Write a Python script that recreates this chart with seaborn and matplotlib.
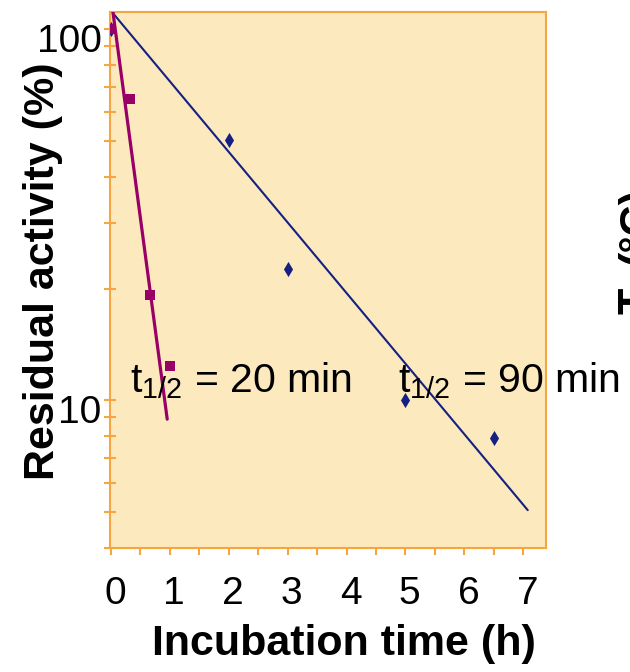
import matplotlib
matplotlib.use("Agg")
import matplotlib.pyplot as plt
from matplotlib.ticker import FixedLocator, NullFormatter, FixedFormatter
from matplotlib.transforms import ScaledTranslation
import seaborn as sns
import pandas as pd

# ---- data ----
fast_time = [0, 0.33, 0.67, 1.0]
fast_activity = [100, 65, 19.2, 12.4]
slow_time = [0, 2, 3, 5, 6.5]
slow_activity = [100, 50.4, 22.6, 10.0, 7.9]
fast_fit_time = [0, 0.956]
fast_fit_activity = [122.5, 8.9]
slow_fit_time = [0, 7.075]
slow_fit_activity = [112.3, 5.06]
x_ticks = [0, 1, 2, 3, 4, 5, 6, 7]
y_ticks = [10, 100]
labels = ["t$_{1/2}$ = 20 min", "t$_{1/2}$ = 90 min"]

PURPLE = "#990066"
NAVY = "#162082"
ORANGE = "#F7A541"
BG = "#FCE9BE"

sns.set_style("ticks")
plt.rcParams["font.family"] = ["Liberation Sans", "DejaVu Sans"]
plt.rcParams["mathtext.fontset"] = "custom"
plt.rcParams["mathtext.rm"] = "Liberation Sans"
plt.rcParams["mathtext.default"] = "regular"
plt.rcParams["text.color"] = "black"
plt.rcParams["xtick.labelcolor"] = "black"
plt.rcParams["ytick.labelcolor"] = "black"

fig = plt.figure(figsize=(6.3, 6.72), dpi=100)
L, R, B, T = 110 / 630, 546 / 630, 1 - 548 / 672, 1 - 12 / 672
ax = fig.add_axes([L, B, R - L, T - B])
ax.set_facecolor(BG)

df_sf = pd.DataFrame({"t": slow_fit_time, "a": slow_fit_activity})
df_ff = pd.DataFrame({"t": fast_fit_time, "a": fast_fit_activity})
df_s = pd.DataFrame({"t": slow_time, "a": slow_activity})
df_f = pd.DataFrame({"t": fast_time, "a": fast_activity})

sns.lineplot(data=df_sf, x="t", y="a", ax=ax, color=NAVY, linewidth=1.5,
             estimator=None, sort=False, zorder=2)
sns.scatterplot(data=df_s, x="t", y="a", ax=ax, color=NAVY, marker="d",
                s=60, linewidth=0, zorder=3)
sns.lineplot(data=df_ff, x="t", y="a", ax=ax, color=PURPLE, linewidth=2.3,
             estimator=None, sort=False, zorder=4)
sns.scatterplot(data=df_f, x="t", y="a", ax=ax, color=PURPLE, marker="s",
                s=52, linewidth=0, zorder=5)

ax.set_yscale("log")
ax.set_xlim(-0.015, 7.385)
ax.set_ylim(4, 111.4)
ax.set_xlabel("")
ax.set_ylabel("")

ax.xaxis.set_major_locator(FixedLocator(x_ticks))
ax.xaxis.set_major_formatter(FixedFormatter([str(v) for v in x_ticks]))
ax.xaxis.set_minor_locator(FixedLocator([v + 0.5 for v in x_ticks[:-1]]))
ax.yaxis.set_major_locator(FixedLocator(y_ticks))
ax.yaxis.set_major_formatter(FixedFormatter([str(v) for v in y_ticks]))
ax.yaxis.set_minor_locator(FixedLocator([4, 5, 6, 7, 8, 9, 20, 30, 40, 50, 60, 70, 80, 90]))
ax.yaxis.set_minor_formatter(NullFormatter())

ax.tick_params(axis="x", which="both", direction="out", length=5, width=1.5,
               color=ORANGE, labelsize=28, pad=15, labelcolor="black")
ax.tick_params(axis="y", which="both", direction="inout", length=8, width=1.5,
               color=ORANGE, labelsize=28, pad=2, labelcolor="black")

for s in ax.spines.values():
    s.set_visible(True)
    s.set_color(ORANGE)
    s.set_linewidth(1.5)

offy = ScaledTranslation(0, -9 / 100, fig.dpi_scale_trans)
for lab in ax.get_yticklabels():
    lab.set_transform(lab.get_transform() + offy)
offx = ScaledTranslation(4 / 100, 0, fig.dpi_scale_trans)
for lab in ax.get_xticklabels():
    lab.set_transform(lab.get_transform() + offx)

ax.text(0.32, 10.5, labels[0], fontsize=29.5, va="baseline", ha="left", zorder=6)
ax.text(4.87, 10.5, labels[1], fontsize=29.5, va="baseline", ha="left", zorder=6)

fig.text(344 / 630, 1 - 655 / 672, "Incubation time (h)", fontsize=31,
         fontweight="bold", ha="center", va="baseline")
fig.text(54 / 630, 1 - 271 / 672, "Residual activity (%)", fontsize=31,
         fontweight="bold", rotation=90, rotation_mode="anchor",
         ha="center", va="baseline")
# partially visible label of a neighbouring panel at the right edge
fig.text(648 / 630, 1 - 301 / 672, "T", fontsize=31, fontweight="bold",
         rotation=90, rotation_mode="anchor", ha="center", va="baseline")
fig.text(648 / 630, 1 - 226 / 672, "(°C)", fontsize=31, fontweight="bold",
         rotation=90, rotation_mode="anchor", ha="center", va="baseline")

fig.savefig("out.png", dpi=100)
